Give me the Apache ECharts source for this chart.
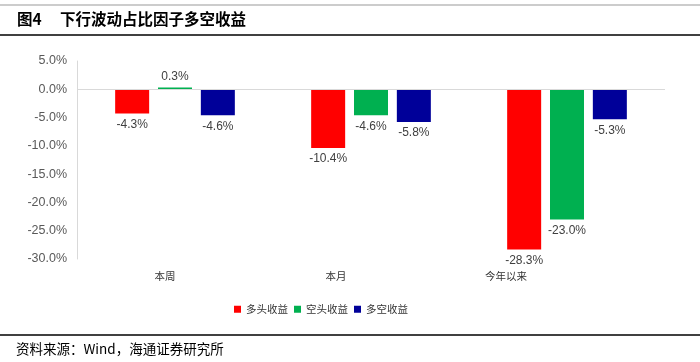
<!DOCTYPE html>
<html><head><meta charset="utf-8">
<script src="https://cdn.jsdelivr.net/npm/echarts@6/dist/echarts.min.js"></script>
<style>html,body{margin:0;padding:0;background:#fff}#c{width:700px;height:362px}</style>
</head><body><div id="c"></div>
<script>
const categories = ['本周', '本月', '今年以来'];
const longRet = [-4.3, -10.4, -28.3];
const shortRet = [0.3, -4.6, -23.0];
const lsRet = [-4.6, -5.8, -5.3];
const seriesNames = ['多头收益', '空头收益', '多空收益'];
const titleNum = '图4';
const titleText = '下行波动占比因子多空收益';
const sourceText = '资料来源：Wind，海通证券研究所';

const chart = echarts.init(document.getElementById('c'), null, {renderer: 'canvas'});
const font = 'Liberation Sans, Arial, sans-serif';
const cjk = 'Noto Sans CJK SC, sans-serif';
const lbl = {
  show: true,
  fontFamily: font, fontSize: 12, color: '#404040',
  formatter: p => p.value.toFixed(1) + '%',
  position: 'bottom', distance: 5
};
function mk(name, data, color, extra) {
  return Object.assign({
    name, type: 'bar', data: data.map(v => ({value: v, label: {position: v >= 0 ? 'top' : 'bottom'}})),
    barWidth: 34, barGap: '26%',
    itemStyle: {color},
    label: lbl
  }, extra || {});
}
const pads = {a: [0, 20, 0, 0], b: [0, 70, 0, 0], c: [0, 122, 0, 0]};
const catStyle = {fontFamily: cjk, fontSize: 10.5, color: '#333'};
chart.setOption({
  animation: false,
  graphic: [
    {type: 'line', shape: {x1: 0, y1: 5, x2: 700, y2: 5}, style: {stroke: '#999', lineWidth: 1}},
    {type: 'text', left: 17, top: 11, style: {text: titleNum, font: 'bold 15.5px ' + cjk, fill: '#000'}},
    {type: 'text', left: 60, top: 11, style: {text: titleText, font: 'bold 15.5px ' + cjk, fill: '#000'}},
    {type: 'line', shape: {x1: 0, y1: 35, x2: 700, y2: 35}, style: {stroke: '#000', lineWidth: 1.5}},
    {type: 'line', shape: {x1: 0, y1: 335, x2: 700, y2: 335}, style: {stroke: '#000', lineWidth: 1.5}},
    {type: 'text', left: 16, top: 342, style: {text: sourceText, font: '13.5px ' + cjk, fill: '#000'}}
  ],
  legend: {
    data: seriesNames, left: 229, top: 299, icon: 'rect', itemWidth: 7, itemHeight: 7, itemGap: 6,
    textStyle: {fontFamily: cjk, fontSize: 10.5, color: '#333'}
  },
  grid: {left: 77, right: 35, top: 61, bottom: 103, containLabel: false},
  xAxis: {
    type: 'category', data: categories,
    axisLine: {show: false}, axisTick: {show: false},
    axisLabel: {
      margin: 12,
      formatter: (v, i) => '{' + ['a', 'b', 'c'][i] + '|' + v + '}',
      rich: {
        a: Object.assign({padding: pads.a}, catStyle),
        b: Object.assign({padding: pads.b}, catStyle),
        c: Object.assign({padding: pads.c}, catStyle)
      }
    }
  },
  yAxis: {
    type: 'value', min: -30, max: 5, interval: 5,
    axisLine: {show: true, lineStyle: {color: '#d9d9d9'}},
    axisTick: {show: false}, splitLine: {show: false},
    axisLabel: {formatter: v => v.toFixed(1) + '%', fontFamily: font, fontSize: 12.5, color: '#595959', margin: 10}
  },
  series: [
    mk(seriesNames[0], longRet, '#FF0000', {
      markLine: {silent: true, symbol: 'none', label: {show: false},
        lineStyle: {color: '#d9d9d9', type: 'solid', width: 1}, data: [{yAxis: 0}]}
    }),
    mk(seriesNames[1], shortRet, '#00B050'),
    mk(seriesNames[2], lsRet, '#000099')
  ]
});
</script></body></html>
